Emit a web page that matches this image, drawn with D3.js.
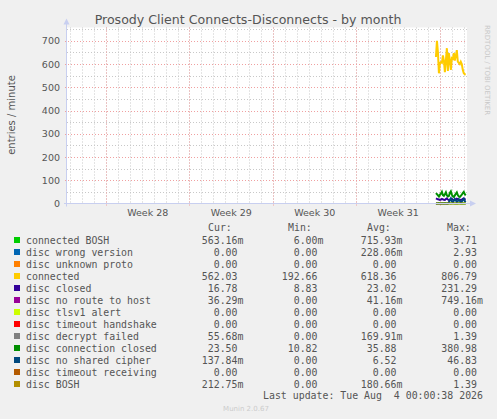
<!DOCTYPE html>
<html>
<head>
<meta charset="utf-8">
<script src="https://cdn.jsdelivr.net/npm/d3@7"></script>
<style>
  body { margin: 0; background: #f0f0f0; }
  svg { display: block; }
</style>
</head>
<body>
<svg id="canvas"></svg>
<script>
// ---- data ----
const seriesNames = ['connected BOSH', 'disc wrong version', 'disc unknown proto', 'connected',
  'disc closed', 'disc no route to host', 'disc tlsv1 alert', 'disc timeout handshake',
  'disc decrypt failed', 'disc connection closed', 'disc no shared cipher',
  'disc timeout receiving', 'disc BOSH'];
const seriesColors = ['#00cc00', '#0066b3', '#ff8000', '#ffcc00', '#330099', '#990099',
  '#ccff00', '#ff0000', '#808080', '#008f00', '#00487d', '#b35a00', '#b38f00'];

const curValues = ['563.16m', '0.00', '0.00', '562.03', '16.78', '36.29m', '0.00', '0.00',
  '55.68m', '23.50', '137.84m', '0.00', '212.75m'];
const minValues = ['6.00m', '0.00', '0.00', '192.66', '8.83', '0.00', '0.00', '0.00',
  '0.00', '10.82', '0.00', '0.00', '0.00'];
const avgValues = ['715.93m', '228.06m', '0.00', '618.36', '23.02', '41.16m', '0.00', '0.00',
  '169.91m', '35.88', '6.52', '0.00', '180.66m'];
const maxValues = ['3.71', '2.93', '0.00', '806.79', '231.29', '749.16m', '0.00', '0.00',
  '1.39', '380.98', '46.83', '0.00', '1.39'];

// samples every 2 hours, starting here
const firstSample = new Date(2026, 7, 2, 16, 0);
const stepHours = 2;

const connectedBosh = [1, 0.5, 1, 2, 0.5, 0, 1, 1, 0.5, 2, 1, 0.5, 0, 1, 1, 0.5, 1, 2, 1, 0.5, 0, 1, 0.5, 1, 1, 0.5, 0, 1, 0.5, 0.5, 0.5];
const connected = [630, 700, 650, 560, 605, 608, 605, 637, 615, 565, 615, 668, 570, 647, 615, 575,
  625, 622, 647, 615, 635, 660, 610, 605, 600, 610, 600, 575, 560, 556, 556];
const discClosed = [22, 20, 18, 17, 15, 17, 20, 18, 16, 15, 19, 22, 17, 15, 16, 18,
  20, 17, 15, 16, 18, 21, 19, 17, 16, 15, 17, 20, 22, 18, 17];
const discConnClosed = [45, 40, 35, 30, 38, 42, 50, 36, 33, 40, 48, 35, 30, 32, 45, 52,
  38, 30, 28, 35, 42, 48, 36, 30, 28, 33, 38, 45, 50, 40, 35];
const discNoCipher = [0, 0, 0, 0, 0, 0, 0, 0, 0, 0, 0, 0, 0, 5, 15, 22,
  10, 5, 12, 20, 14, 6, 10, 18, 12, 5, 8, 15, 20, 10, 6];
const discBosh = [0.2, 0.1, 0.3, 0.2, 0.1, 0.2, 0.3, 0.1, 0.2, 0.2, 0.1, 0.3, 0.2, 0.1, 0.2, 0.2,
  0.1, 0.2, 0.3, 0.1, 0.2, 0.2, 0.1, 0.2, 0.3, 0.2, 0.1, 0.2, 0.2, 0.1, 0.2];

const seriesData = {
  'connected BOSH': connectedBosh,
  'connected': connected,
  'disc closed': discClosed,
  'disc connection closed': discConnClosed,
  'disc no shared cipher': discNoCipher,
  'disc BOSH': discBosh
};

const yTicks = [0, 100, 200, 300, 400, 500, 600, 700];
const weekLabels = ['Week 28', 'Week 29', 'Week 30', 'Week 31'];
const weekStarts = [new Date(2026, 6, 6), new Date(2026, 6, 13), new Date(2026, 6, 20),
  new Date(2026, 6, 27), new Date(2026, 7, 3)];

// ---- layout ----
let width = 497;
let height = 419;
let plotLeft = 67, plotRight = 467, plotTop = 27.5, plotBottom = 203.5;

let canvas = d3.select('#canvas').attr('width', width).attr('height', height);
canvas.append('rect').attr('width', width).attr('height', height).attr('fill', '#f0f0f0');

let xScale = d3.scaleTime()
  .domain([new Date(2026, 6, 2, 17, 30), new Date(2026, 7, 5, 6, 30)])
  .range([plotLeft, plotRight]);
let yScale = d3.scaleLinear().domain([0, 757]).range([plotBottom, plotTop]);

const sans = 'DejaVu Sans, sans-serif';
const mono = 'DejaVu Sans Mono, monospace';

// plot area
canvas.append('rect')
  .attr('x', plotLeft).attr('y', plotTop)
  .attr('width', plotRight - plotLeft).attr('height', plotBottom - plotTop)
  .attr('fill', '#ffffff');

// grid - minor
let grid = canvas.append('g');
grid.selectAll('.vmin')
  .data(d3.timeDay.range(xScale.domain()[0], xScale.domain()[1]))
  .enter().append('line')
  .attr('x1', d => Math.round(xScale(d)) + 0.5).attr('x2', d => Math.round(xScale(d)) + 0.5)
  .attr('y1', plotTop).attr('y2', plotBottom)
  .attr('stroke', '#c8c8c8').attr('stroke-dasharray', '1,2');
grid.selectAll('.hmin')
  .data(d3.range(50, 757, 100))
  .enter().append('line')
  .attr('x1', plotLeft).attr('x2', plotRight)
  .attr('y1', d => Math.round(yScale(d)) + 0.5).attr('y2', d => Math.round(yScale(d)) + 0.5)
  .attr('stroke', '#c8c8c8').attr('stroke-dasharray', '1,2');
// grid - major
grid.selectAll('.vmaj')
  .data(weekStarts)
  .enter().append('line')
  .attr('x1', d => Math.round(xScale(d)) + 0.5).attr('x2', d => Math.round(xScale(d)) + 0.5)
  .attr('y1', plotTop).attr('y2', plotBottom + 3)
  .attr('stroke', '#f0a0a0').attr('stroke-dasharray', '1,2');
grid.selectAll('.hmaj')
  .data(yTicks.slice(1))
  .enter().append('line')
  .attr('x1', plotLeft - 2).attr('x2', plotRight)
  .attr('y1', d => Math.round(yScale(d)) + 0.5).attr('y2', d => Math.round(yScale(d)) + 0.5)
  .attr('stroke', '#f0a0a0').attr('stroke-dasharray', '1,2');

// series lines (legend order, later on top)
let line = d3.line()
  .x((d, i) => xScale(d3.timeHour.offset(firstSample, i * stepHours)))
  .y(d => yScale(d));
seriesNames.forEach((name, k) => {
  if (!seriesData[name]) return;
  canvas.append('path')
    .attr('d', line(seriesData[name]))
    .attr('fill', 'none')
    .attr('stroke', seriesColors[k])
    .attr('stroke-width', 2);
});

// axes
let axisColor = '#c8cff0';
canvas.append('line').attr('x1', plotLeft - 0.5).attr('x2', plotLeft - 0.5)
  .attr('y1', plotBottom + 3).attr('y2', plotTop - 4).attr('stroke', axisColor);
canvas.append('path').attr('d', `M${plotLeft - 3.5},${plotTop - 3} L${plotLeft + 2.5},${plotTop - 3} L${plotLeft - 0.5},${plotTop - 9} Z`)
  .attr('fill', axisColor);
canvas.append('line').attr('x1', plotLeft - 3).attr('x2', plotRight + 4)
  .attr('y1', plotBottom).attr('y2', plotBottom).attr('stroke', axisColor);
canvas.append('path').attr('d', `M${plotRight + 3},${plotBottom - 3} L${plotRight + 3},${plotBottom + 3} L${plotRight + 9},${plotBottom} Z`)
  .attr('fill', axisColor);

// y tick labels
canvas.append('g').selectAll('text')
  .data(yTicks).enter().append('text')
  .attr('x', plotLeft - 7).attr('y', d => yScale(d) + 3.5)
  .attr('text-anchor', 'end')
  .attr('font-family', sans).attr('font-size', 9.5).attr('fill', '#555')
  .text(d => d);

// week labels, centred in their week
canvas.append('g').selectAll('text')
  .data(weekLabels).enter().append('text')
  .attr('x', (d, i) => (xScale(weekStarts[i]) + xScale(weekStarts[i + 1])) / 2)
  .attr('y', 216)
  .attr('text-anchor', 'middle')
  .attr('font-family', sans).attr('font-size', 9.5).attr('fill', '#555')
  .text(d => d);

// title and labels
canvas.append('text').attr('x', 248).attr('y', 24).attr('text-anchor', 'middle')
  .attr('font-family', sans).attr('font-size', 12.6).attr('fill', '#555')
  .text('Prosody Client Connects-Disconnects - by month');
canvas.append('text').attr('transform', 'translate(15,115) rotate(-90)')
  .attr('text-anchor', 'middle')
  .attr('font-family', sans).attr('font-size', 10).attr('fill', '#555')
  .text('entries / minute');
canvas.append('text').attr('transform', 'translate(485,25) rotate(90)')
  .attr('font-family', sans).attr('font-size', 7).attr('fill', '#c8c8c8')
  .text('RRDTOOL / TOBI OETIKER');

// legend
let legend = canvas.append('g').attr('font-family', mono).attr('font-size', 9.9).attr('fill', '#555');
let headers = [['Cur:', 208], ['Min:', 288], ['Avg:', 367], ['Max:', 447]];
legend.selectAll('.hdr').data(headers).enter().append('text')
  .attr('x', d => d[1]).attr('y', 231).text(d => d[0]);

let rowY = i => 244 + i * 12;
legend.selectAll('.sw').data(seriesNames).enter().append('rect')
  .attr('x', 14).attr('y', (d, i) => rowY(i) - 7)
  .attr('width', 6).attr('height', 6)
  .attr('fill', (d, i) => seriesColors[i]);
legend.selectAll('.nm').data(seriesNames).enter().append('text')
  .attr('x', 26).attr('y', (d, i) => rowY(i)).text(d => d);

let columns = [[curValues, 237.5], [minValues, 317.5], [avgValues, 396.5], [maxValues, 477]];
columns.forEach(([vals, xEnd]) => {
  vals.forEach((v, i) => {
    let num = v.replace(/m$/, '');
    legend.append('text').attr('x', xEnd).attr('y', rowY(i))
      .attr('text-anchor', 'end').text(num);
    if (v.endsWith('m')) {
      legend.append('text').attr('x', xEnd).attr('y', rowY(i)).text('m');
    }
  });
});

legend.append('text').attr('x', 483).attr('y', 399).attr('text-anchor', 'end')
  .style('white-space', 'pre')
  .text('Last update: Tue Aug  4 00:00:38 2026');

canvas.append('text').attr('x', 246).attr('y', 411).attr('text-anchor', 'middle')
  .attr('font-family', sans).attr('font-size', 7).attr('fill', '#cccccc')
  .text('Munin 2.0.67');
</script>
</body>
</html>
